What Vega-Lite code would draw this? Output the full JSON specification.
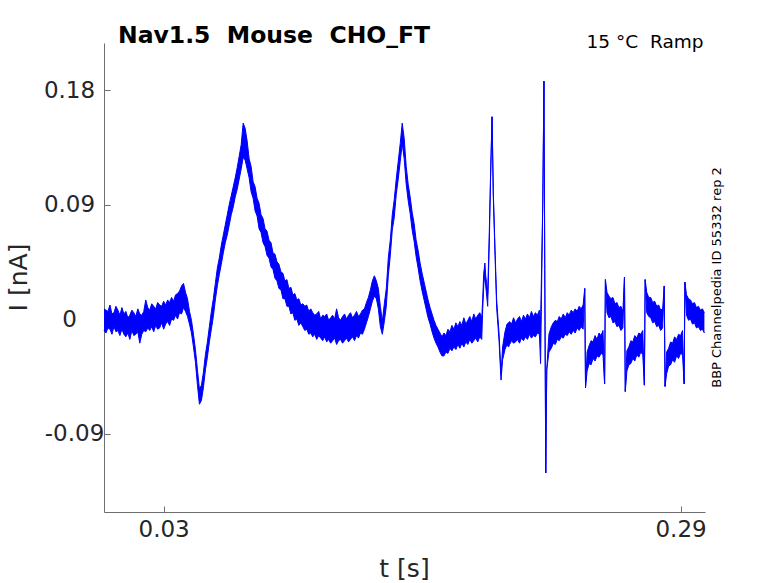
{
  "$schema": "https://vega.github.io/schema/vega-lite/v6.json",
  "width": 601,
  "height": 469,
  "autosize": {"type": "none"},
  "padding": {"left": 104, "top": 43, "right": 73, "bottom": 71},
  "background": "white",
  "config": {"view": {"stroke": null}, "axis": {"grid": false}},
  "title": {
    "text": "Nav1.5\u00a0 Mouse\u00a0 CHO_FT",
    "anchor": "start",
    "frame": "group",
    "baseline": "alphabetic",
    "offset": 1,
    "dx": 14,
    "dy": 35,
    "font": "DejaVu Sans",
    "fontSize": 23.5,
    "fontWeight": "bold",
    "color": "#000000"
  },
  "data": {
    "values": [
      {"t": 0.000, "lo": -0.009, "hi": 0.008},
      {"t": 0.001, "lo": -0.011, "hi": 0.007},
      {"t": 0.002, "lo": -0.007, "hi": 0.006},
      {"t": 0.003, "lo": -0.008, "hi": 0.011},
      {"t": 0.004, "lo": -0.012, "hi": 0.004},
      {"t": 0.005, "lo": -0.006, "hi": 0.005},
      {"t": 0.006, "lo": -0.010, "hi": 0.010},
      {"t": 0.007, "lo": -0.009, "hi": 0.007},
      {"t": 0.008, "lo": -0.013, "hi": 0.003},
      {"t": 0.009, "lo": -0.008, "hi": 0.009},
      {"t": 0.010, "lo": -0.012, "hi": 0.004},
      {"t": 0.011, "lo": -0.014, "hi": 0.006},
      {"t": 0.012, "lo": -0.011, "hi": 0.001},
      {"t": 0.013, "lo": -0.016, "hi": 0.003},
      {"t": 0.014, "lo": -0.009, "hi": 0.007},
      {"t": 0.015, "lo": -0.013, "hi": 0.005},
      {"t": 0.016, "lo": -0.012, "hi": 0.002},
      {"t": 0.017, "lo": -0.010, "hi": 0.008},
      {"t": 0.018, "lo": -0.019, "hi": 0.004},
      {"t": 0.019, "lo": -0.012, "hi": 0.003},
      {"t": 0.020, "lo": -0.009, "hi": 0.006},
      {"t": 0.021, "lo": -0.010, "hi": 0.015},
      {"t": 0.022, "lo": -0.007, "hi": 0.009},
      {"t": 0.023, "lo": -0.009, "hi": 0.007},
      {"t": 0.024, "lo": -0.006, "hi": 0.012},
      {"t": 0.025, "lo": -0.010, "hi": 0.010},
      {"t": 0.026, "lo": -0.005, "hi": 0.008},
      {"t": 0.027, "lo": -0.008, "hi": 0.013},
      {"t": 0.028, "lo": -0.007, "hi": 0.011},
      {"t": 0.029, "lo": -0.003, "hi": 0.010},
      {"t": 0.030, "lo": -0.008, "hi": 0.014},
      {"t": 0.031, "lo": -0.004, "hi": 0.011},
      {"t": 0.032, "lo": -0.002, "hi": 0.015},
      {"t": 0.033, "lo": -0.005, "hi": 0.013},
      {"t": 0.034, "lo": 0.000, "hi": 0.017},
      {"t": 0.035, "lo": -0.001, "hi": 0.014},
      {"t": 0.036, "lo": 0.003, "hi": 0.019},
      {"t": 0.037, "lo": 0.000, "hi": 0.020},
      {"t": 0.038, "lo": 0.005, "hi": 0.022},
      {"t": 0.039, "lo": 0.004, "hi": 0.026},
      {"t": 0.040, "lo": 0.009, "hi": 0.028},
      {"t": 0.041, "lo": 0.006, "hi": 0.021},
      {"t": 0.042, "lo": 0.002, "hi": 0.016},
      {"t": 0.043, "lo": -0.004, "hi": 0.006},
      {"t": 0.044, "lo": -0.011, "hi": -0.001},
      {"t": 0.045, "lo": -0.022, "hi": -0.012},
      {"t": 0.046, "lo": -0.034, "hi": -0.024},
      {"t": 0.047, "lo": -0.052, "hi": -0.040},
      {"t": 0.048, "lo": -0.067, "hi": -0.055},
      {"t": 0.049, "lo": -0.064, "hi": -0.052},
      {"t": 0.050, "lo": -0.054, "hi": -0.042},
      {"t": 0.051, "lo": -0.040, "hi": -0.028},
      {"t": 0.052, "lo": -0.030, "hi": -0.018},
      {"t": 0.053, "lo": -0.018, "hi": -0.006},
      {"t": 0.054, "lo": -0.008, "hi": 0.006},
      {"t": 0.055, "lo": 0.002, "hi": 0.016},
      {"t": 0.056, "lo": 0.015, "hi": 0.028},
      {"t": 0.057, "lo": 0.026, "hi": 0.040},
      {"t": 0.058, "lo": 0.035, "hi": 0.048},
      {"t": 0.059, "lo": 0.043, "hi": 0.058},
      {"t": 0.060, "lo": 0.052, "hi": 0.066},
      {"t": 0.061, "lo": 0.060, "hi": 0.074},
      {"t": 0.062, "lo": 0.066, "hi": 0.082},
      {"t": 0.063, "lo": 0.074, "hi": 0.090},
      {"t": 0.064, "lo": 0.082, "hi": 0.097},
      {"t": 0.065, "lo": 0.088, "hi": 0.104},
      {"t": 0.066, "lo": 0.096, "hi": 0.111},
      {"t": 0.067, "lo": 0.102, "hi": 0.119},
      {"t": 0.068, "lo": 0.110, "hi": 0.128},
      {"t": 0.069, "lo": 0.118, "hi": 0.137},
      {"t": 0.070, "lo": 0.127, "hi": 0.154},
      {"t": 0.071, "lo": 0.125, "hi": 0.150},
      {"t": 0.072, "lo": 0.118, "hi": 0.140},
      {"t": 0.073, "lo": 0.111, "hi": 0.126},
      {"t": 0.074, "lo": 0.100, "hi": 0.120},
      {"t": 0.075, "lo": 0.095, "hi": 0.108},
      {"t": 0.076, "lo": 0.085, "hi": 0.104},
      {"t": 0.077, "lo": 0.081, "hi": 0.095},
      {"t": 0.078, "lo": 0.071, "hi": 0.091},
      {"t": 0.079, "lo": 0.068, "hi": 0.082},
      {"t": 0.080, "lo": 0.060, "hi": 0.079},
      {"t": 0.081, "lo": 0.057, "hi": 0.071},
      {"t": 0.082, "lo": 0.050, "hi": 0.069},
      {"t": 0.083, "lo": 0.048, "hi": 0.062},
      {"t": 0.084, "lo": 0.041, "hi": 0.060},
      {"t": 0.085, "lo": 0.039, "hi": 0.052},
      {"t": 0.086, "lo": 0.032, "hi": 0.051},
      {"t": 0.087, "lo": 0.030, "hi": 0.045},
      {"t": 0.088, "lo": 0.024, "hi": 0.043},
      {"t": 0.089, "lo": 0.023, "hi": 0.037},
      {"t": 0.090, "lo": 0.016, "hi": 0.036},
      {"t": 0.091, "lo": 0.016, "hi": 0.030},
      {"t": 0.092, "lo": 0.010, "hi": 0.031},
      {"t": 0.093, "lo": 0.010, "hi": 0.024},
      {"t": 0.094, "lo": 0.004, "hi": 0.025},
      {"t": 0.095, "lo": 0.005, "hi": 0.019},
      {"t": 0.096, "lo": -0.001, "hi": 0.020},
      {"t": 0.097, "lo": 0.000, "hi": 0.015},
      {"t": 0.098, "lo": -0.005, "hi": 0.016},
      {"t": 0.099, "lo": -0.003, "hi": 0.011},
      {"t": 0.100, "lo": -0.006, "hi": 0.012},
      {"t": 0.101, "lo": -0.009, "hi": 0.010},
      {"t": 0.102, "lo": -0.008, "hi": 0.011},
      {"t": 0.103, "lo": -0.012, "hi": 0.006},
      {"t": 0.104, "lo": -0.011, "hi": 0.008},
      {"t": 0.105, "lo": -0.014, "hi": 0.005},
      {"t": 0.106, "lo": -0.012, "hi": 0.003},
      {"t": 0.107, "lo": -0.016, "hi": 0.004},
      {"t": 0.108, "lo": -0.013, "hi": 0.006},
      {"t": 0.109, "lo": -0.015, "hi": 0.000},
      {"t": 0.110, "lo": -0.017, "hi": 0.003},
      {"t": 0.111, "lo": -0.014, "hi": 0.002},
      {"t": 0.112, "lo": -0.018, "hi": 0.004},
      {"t": 0.113, "lo": -0.016, "hi": -0.001},
      {"t": 0.114, "lo": -0.019, "hi": 0.001},
      {"t": 0.115, "lo": -0.017, "hi": 0.003},
      {"t": 0.116, "lo": -0.015, "hi": 0.000},
      {"t": 0.117, "lo": -0.020, "hi": 0.008},
      {"t": 0.118, "lo": -0.017, "hi": 0.001},
      {"t": 0.119, "lo": -0.016, "hi": -0.001},
      {"t": 0.120, "lo": -0.019, "hi": 0.002},
      {"t": 0.121, "lo": -0.017, "hi": 0.004},
      {"t": 0.122, "lo": -0.015, "hi": 0.000},
      {"t": 0.123, "lo": -0.018, "hi": 0.003},
      {"t": 0.124, "lo": -0.016, "hi": 0.005},
      {"t": 0.125, "lo": -0.014, "hi": 0.001},
      {"t": 0.126, "lo": -0.017, "hi": 0.003},
      {"t": 0.127, "lo": -0.013, "hi": 0.006},
      {"t": 0.128, "lo": -0.015, "hi": 0.002},
      {"t": 0.129, "lo": -0.011, "hi": 0.004},
      {"t": 0.130, "lo": -0.012, "hi": 0.007},
      {"t": 0.131, "lo": -0.008, "hi": 0.008},
      {"t": 0.132, "lo": -0.003, "hi": 0.013},
      {"t": 0.133, "lo": 0.002, "hi": 0.017},
      {"t": 0.134, "lo": 0.008, "hi": 0.023},
      {"t": 0.135, "lo": 0.014, "hi": 0.030},
      {"t": 0.136, "lo": 0.018, "hi": 0.034},
      {"t": 0.137, "lo": 0.016, "hi": 0.030},
      {"t": 0.138, "lo": 0.008, "hi": 0.024},
      {"t": 0.139, "lo": -0.006, "hi": 0.010},
      {"t": 0.140, "lo": -0.012, "hi": -0.002},
      {"t": 0.141, "lo": -0.002, "hi": 0.012},
      {"t": 0.142, "lo": 0.010, "hi": 0.024},
      {"t": 0.143, "lo": 0.034, "hi": 0.048},
      {"t": 0.144, "lo": 0.050, "hi": 0.062},
      {"t": 0.145, "lo": 0.070, "hi": 0.082},
      {"t": 0.146, "lo": 0.080, "hi": 0.094},
      {"t": 0.147, "lo": 0.098, "hi": 0.110},
      {"t": 0.148, "lo": 0.110, "hi": 0.124},
      {"t": 0.149, "lo": 0.124, "hi": 0.138},
      {"t": 0.150, "lo": 0.138, "hi": 0.154},
      {"t": 0.151, "lo": 0.126, "hi": 0.142},
      {"t": 0.152, "lo": 0.106, "hi": 0.120},
      {"t": 0.153, "lo": 0.093, "hi": 0.106},
      {"t": 0.154, "lo": 0.083, "hi": 0.096},
      {"t": 0.155, "lo": 0.070, "hi": 0.084},
      {"t": 0.156, "lo": 0.061, "hi": 0.075},
      {"t": 0.157, "lo": 0.049, "hi": 0.062},
      {"t": 0.158, "lo": 0.040, "hi": 0.054},
      {"t": 0.159, "lo": 0.030, "hi": 0.044},
      {"t": 0.160, "lo": 0.022, "hi": 0.036},
      {"t": 0.161, "lo": 0.015, "hi": 0.029},
      {"t": 0.162, "lo": 0.008, "hi": 0.022},
      {"t": 0.163, "lo": 0.001, "hi": 0.015},
      {"t": 0.164, "lo": -0.004, "hi": 0.009},
      {"t": 0.165, "lo": -0.010, "hi": 0.004},
      {"t": 0.166, "lo": -0.015, "hi": -0.001},
      {"t": 0.167, "lo": -0.019, "hi": -0.005},
      {"t": 0.168, "lo": -0.022, "hi": -0.008},
      {"t": 0.169, "lo": -0.026, "hi": -0.011},
      {"t": 0.170, "lo": -0.029, "hi": -0.014},
      {"t": 0.171, "lo": -0.029, "hi": -0.011},
      {"t": 0.172, "lo": -0.026, "hi": -0.013},
      {"t": 0.173, "lo": -0.027, "hi": -0.008},
      {"t": 0.174, "lo": -0.023, "hi": -0.010},
      {"t": 0.175, "lo": -0.025, "hi": -0.005},
      {"t": 0.176, "lo": -0.022, "hi": -0.008},
      {"t": 0.177, "lo": -0.024, "hi": -0.003},
      {"t": 0.178, "lo": -0.020, "hi": -0.006},
      {"t": 0.179, "lo": -0.023, "hi": -0.002},
      {"t": 0.180, "lo": -0.019, "hi": -0.005},
      {"t": 0.181, "lo": -0.022, "hi": 0.001},
      {"t": 0.182, "lo": -0.018, "hi": -0.004},
      {"t": 0.183, "lo": -0.020, "hi": -0.001},
      {"t": 0.184, "lo": -0.016, "hi": 0.002},
      {"t": 0.185, "lo": -0.019, "hi": -0.002},
      {"t": 0.186, "lo": -0.017, "hi": 0.004},
      {"t": 0.187, "lo": -0.015, "hi": 0.000},
      {"t": 0.188, "lo": -0.018, "hi": 0.003},
      {"t": 0.189, "lo": -0.014, "hi": 0.005},
      {"t": 0.190, "lo": -0.016, "hi": 0.001},
      {"t": 0.1905, "lo": 0.008, "hi": 0.016},
      {"t": 0.191, "lo": 0.026, "hi": 0.036},
      {"t": 0.1916, "lo": 0.036, "hi": 0.044},
      {"t": 0.192, "lo": 0.026, "hi": 0.034},
      {"t": 0.1925, "lo": 0.018, "hi": 0.028},
      {"t": 0.193, "lo": 0.010, "hi": 0.020},
      {"t": 0.1938, "lo": 0.060, "hi": 0.068},
      {"t": 0.1945, "lo": 0.114, "hi": 0.118},
      {"t": 0.1952, "lo": 0.159, "hi": 0.159},
      {"t": 0.1958, "lo": 0.097, "hi": 0.101},
      {"t": 0.1967, "lo": 0.050, "hi": 0.054},
      {"t": 0.1975, "lo": 0.009, "hi": 0.015},
      {"t": 0.1987, "lo": -0.017, "hi": -0.011},
      {"t": 0.1997, "lo": -0.048, "hi": -0.044},
      {"t": 0.2005, "lo": -0.032, "hi": -0.022},
      {"t": 0.2017, "lo": -0.024, "hi": -0.010},
      {"t": 0.2027, "lo": -0.020, "hi": -0.004},
      {"t": 0.2035, "lo": -0.022, "hi": -0.003},
      {"t": 0.204, "lo": -0.020, "hi": -0.002},
      {"t": 0.205, "lo": -0.017, "hi": -0.004},
      {"t": 0.206, "lo": -0.019, "hi": 0.001},
      {"t": 0.207, "lo": -0.018, "hi": -0.003},
      {"t": 0.208, "lo": -0.016, "hi": 0.000},
      {"t": 0.209, "lo": -0.019, "hi": 0.002},
      {"t": 0.210, "lo": -0.015, "hi": -0.002},
      {"t": 0.211, "lo": -0.017, "hi": 0.003},
      {"t": 0.212, "lo": -0.014, "hi": 0.000},
      {"t": 0.213, "lo": -0.016, "hi": 0.004},
      {"t": 0.214, "lo": -0.012, "hi": 0.001},
      {"t": 0.215, "lo": -0.015, "hi": 0.006},
      {"t": 0.216, "lo": -0.013, "hi": 0.002},
      {"t": 0.217, "lo": -0.014, "hi": 0.005},
      {"t": 0.218, "lo": -0.011, "hi": 0.003},
      {"t": 0.219, "lo": -0.012, "hi": 0.007},
      {"t": 0.2196, "lo": -0.035, "hi": -0.003},
      {"t": 0.2207, "lo": 0.091, "hi": 0.091},
      {"t": 0.2213, "lo": 0.187, "hi": 0.187},
      {"t": 0.2217, "lo": 0.039, "hi": 0.039},
      {"t": 0.2222, "lo": -0.121, "hi": -0.121},
      {"t": 0.2227, "lo": -0.040, "hi": -0.040},
      {"t": 0.2238, "lo": -0.026, "hi": -0.012},
      {"t": 0.225, "lo": -0.023, "hi": -0.006},
      {"t": 0.226, "lo": -0.019, "hi": -0.003},
      {"t": 0.227, "lo": -0.020, "hi": -0.001},
      {"t": 0.228, "lo": -0.016, "hi": -0.002},
      {"t": 0.229, "lo": -0.017, "hi": 0.002},
      {"t": 0.230, "lo": -0.014, "hi": 0.000},
      {"t": 0.231, "lo": -0.015, "hi": 0.004},
      {"t": 0.232, "lo": -0.012, "hi": 0.001},
      {"t": 0.233, "lo": -0.013, "hi": 0.005},
      {"t": 0.234, "lo": -0.010, "hi": 0.003},
      {"t": 0.235, "lo": -0.012, "hi": 0.007},
      {"t": 0.236, "lo": -0.009, "hi": 0.005},
      {"t": 0.237, "lo": -0.011, "hi": 0.008},
      {"t": 0.238, "lo": -0.007, "hi": 0.006},
      {"t": 0.239, "lo": -0.009, "hi": 0.010},
      {"t": 0.240, "lo": -0.006, "hi": 0.008},
      {"t": 0.241, "lo": -0.008, "hi": 0.011},
      {"t": 0.2418, "lo": 0.024, "hi": 0.024},
      {"t": 0.2422, "lo": -0.054, "hi": -0.054},
      {"t": 0.243, "lo": -0.041, "hi": -0.026},
      {"t": 0.244, "lo": -0.035, "hi": -0.021},
      {"t": 0.245, "lo": -0.036, "hi": -0.017},
      {"t": 0.246, "lo": -0.031, "hi": -0.018},
      {"t": 0.247, "lo": -0.033, "hi": -0.013},
      {"t": 0.248, "lo": -0.029, "hi": -0.016},
      {"t": 0.249, "lo": -0.030, "hi": -0.011},
      {"t": 0.250, "lo": -0.027, "hi": -0.013},
      {"t": 0.251, "lo": -0.028, "hi": -0.009},
      {"t": 0.2518, "lo": -0.051, "hi": -0.051},
      {"t": 0.2522, "lo": 0.031, "hi": 0.031},
      {"t": 0.253, "lo": 0.005, "hi": 0.021},
      {"t": 0.254, "lo": 0.001, "hi": 0.018},
      {"t": 0.255, "lo": 0.002, "hi": 0.016},
      {"t": 0.256, "lo": -0.003, "hi": 0.017},
      {"t": 0.257, "lo": -0.002, "hi": 0.012},
      {"t": 0.258, "lo": -0.006, "hi": 0.013},
      {"t": 0.259, "lo": -0.005, "hi": 0.009},
      {"t": 0.260, "lo": -0.009, "hi": 0.010},
      {"t": 0.261, "lo": -0.007, "hi": 0.006},
      {"t": 0.2618, "lo": 0.033, "hi": 0.033},
      {"t": 0.2622, "lo": -0.057, "hi": -0.057},
      {"t": 0.263, "lo": -0.041, "hi": -0.025},
      {"t": 0.264, "lo": -0.036, "hi": -0.022},
      {"t": 0.265, "lo": -0.035, "hi": -0.017},
      {"t": 0.266, "lo": -0.031, "hi": -0.018},
      {"t": 0.267, "lo": -0.033, "hi": -0.013},
      {"t": 0.268, "lo": -0.028, "hi": -0.015},
      {"t": 0.269, "lo": -0.030, "hi": -0.011},
      {"t": 0.270, "lo": -0.026, "hi": -0.012},
      {"t": 0.271, "lo": -0.028, "hi": -0.009},
      {"t": 0.2718, "lo": -0.052, "hi": -0.052},
      {"t": 0.2722, "lo": 0.031, "hi": 0.031},
      {"t": 0.273, "lo": 0.005, "hi": 0.021},
      {"t": 0.274, "lo": 0.002, "hi": 0.017},
      {"t": 0.275, "lo": 0.001, "hi": 0.017},
      {"t": 0.276, "lo": -0.003, "hi": 0.013},
      {"t": 0.277, "lo": -0.002, "hi": 0.014},
      {"t": 0.278, "lo": -0.006, "hi": 0.010},
      {"t": 0.279, "lo": -0.005, "hi": 0.011},
      {"t": 0.280, "lo": -0.009, "hi": 0.007},
      {"t": 0.281, "lo": -0.007, "hi": 0.008},
      {"t": 0.2818, "lo": 0.026, "hi": 0.026},
      {"t": 0.2822, "lo": -0.053, "hi": -0.053},
      {"t": 0.283, "lo": -0.043, "hi": -0.026},
      {"t": 0.284, "lo": -0.037, "hi": -0.023},
      {"t": 0.285, "lo": -0.036, "hi": -0.018},
      {"t": 0.286, "lo": -0.032, "hi": -0.019},
      {"t": 0.287, "lo": -0.034, "hi": -0.014},
      {"t": 0.288, "lo": -0.029, "hi": -0.016},
      {"t": 0.289, "lo": -0.031, "hi": -0.012},
      {"t": 0.290, "lo": -0.027, "hi": -0.013},
      {"t": 0.291, "lo": -0.028, "hi": -0.009},
      {"t": 0.2918, "lo": -0.051, "hi": -0.051},
      {"t": 0.2922, "lo": 0.029, "hi": 0.029},
      {"t": 0.293, "lo": 0.003, "hi": 0.019},
      {"t": 0.294, "lo": -0.001, "hi": 0.016},
      {"t": 0.295, "lo": 0.000, "hi": 0.015},
      {"t": 0.296, "lo": -0.004, "hi": 0.012},
      {"t": 0.297, "lo": -0.003, "hi": 0.013},
      {"t": 0.298, "lo": -0.007, "hi": 0.009},
      {"t": 0.299, "lo": -0.006, "hi": 0.010},
      {"t": 0.300, "lo": -0.009, "hi": 0.007},
      {"t": 0.301, "lo": -0.008, "hi": 0.008},
      {"t": 0.302, "lo": -0.011, "hi": 0.005}
    ]
  },
  "layer": [
    {
      "mark": {"type": "area", "color": "#0000ff", "opacity": 1},
      "encoding": {
        "x": {
          "field": "t",
          "type": "quantitative",
          "scale": {"domain": [0, 0.3023], "nice": false, "zero": false},
          "axis": {
            "values": [0.03, 0.29],
            "format": ".2f",
            "title": "t [s]",
            "tickSize": -6,
            "labelPadding": 30,
            "labelBaseline": "alphabetic",
            "labelFlush": false,
            "labelOverlap": false,
            "domainColor": "#6e6e6e",
            "tickColor": "#6e6e6e",
            "labelFont": "DejaVu Sans",
            "labelFontSize": 23,
            "labelColor": "#262626",
            "titleFont": "DejaVu Sans",
            "titleFontSize": 25,
            "titleFontWeight": "normal",
            "titleColor": "#262626",
            "titleX": 300,
            "titleY": 56,
            "titleAlign": "center",
            "titleBaseline": "middle"
          }
        },
        "y": {
          "field": "lo",
          "type": "quantitative",
          "scale": {"domain": [-0.1517, 0.217], "nice": false, "zero": false},
          "axis": {
            "values": [-0.09, 0, 0.09, 0.18],
            "labelExpr": "datum.value < 0 ? '-' + format(-datum.value, '.2f') : (datum.value == 0 ? '0' : format(datum.value, '.2f'))",
            "title": "I [nA]",
            "tickSize": -6,
            "labelAlign": "center",
            "labelBaseline": "middle",
            "labelPadding": {"condition": {"test": "datum.value < 0", "value": 36}, "value": 41},
            "labelFlush": false,
            "labelOverlap": false,
            "domainColor": "#6e6e6e",
            "tickColor": "#6e6e6e",
            "labelFont": "DejaVu Sans",
            "labelFontSize": 23,
            "labelColor": "#262626",
            "titleFont": "DejaVu Sans",
            "titleFontSize": 25,
            "titleFontWeight": "normal",
            "titleColor": "#262626",
            "titleAngle": 270,
            "titleX": -86,
            "titleY": 234,
            "titleAlign": "center",
            "titleBaseline": "middle"
          }
        },
        "y2": {"field": "hi"}
      }
    },
    {
      "mark": {"type": "line", "color": "#0000ff", "strokeWidth": 1},
      "encoding": {
        "x": {"field": "t", "type": "quantitative", "scale": {"domain": [0, 0.3023], "nice": false, "zero": false}, "axis": null},
        "y": {"field": "lo", "type": "quantitative", "scale": {"domain": [-0.1517, 0.217], "nice": false, "zero": false}, "axis": null}
      }
    },
    {
      "mark": {"type": "line", "color": "#0000ff", "strokeWidth": 1},
      "encoding": {
        "x": {
          "field": "t",
          "type": "quantitative",
          "scale": {"domain": [0, 0.3023], "nice": false, "zero": false},
          "axis": {
            "orient": "top",
            "title": "15 °C\u00a0 Ramp",
            "labels": false,
            "ticks": false,
            "domain": false,
            "titleFont": "DejaVu Sans",
            "titleFontSize": 18.5,
            "titleFontWeight": "normal",
            "titleColor": "#000000",
            "titleX": 599,
            "titleY": 4,
            "titleAlign": "right",
            "titleBaseline": "alphabetic"
          }
        },
        "y": {
          "field": "hi",
          "type": "quantitative",
          "scale": {"domain": [-0.1517, 0.217], "nice": false, "zero": false},
          "axis": {
            "orient": "right",
            "title": "BBP Channelpedia ID 55332 rep 2",
            "labels": false,
            "ticks": false,
            "domain": false,
            "titleFont": "DejaVu Sans",
            "titleFontSize": 13,
            "titleFontWeight": "normal",
            "titleColor": "#000000",
            "titleAngle": 270,
            "titleX": 11,
            "titleY": 234,
            "titleAlign": "center",
            "titleBaseline": "middle"
          }
        }
      }
    }
  ],
  "resolve": {"axis": {"x": "independent", "y": "independent"}}
}
